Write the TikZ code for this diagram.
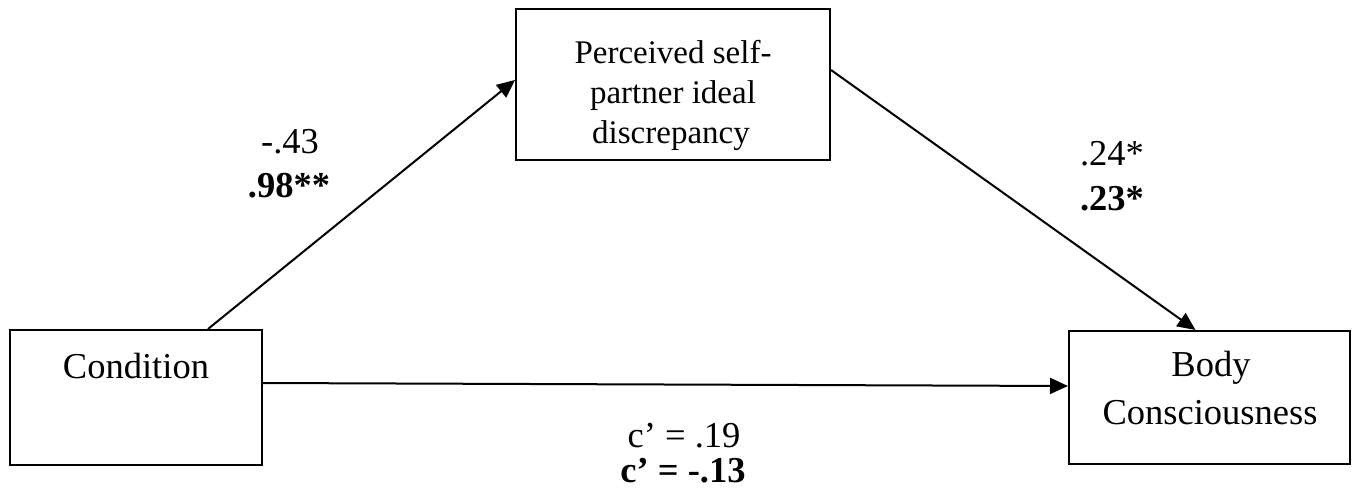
\documentclass[tikz,border=0pt]{standalone}
\usepackage{fontspec}
\setmainfont{Liberation Serif}
\usetikzlibrary{arrows.meta}
\begin{document}
\begin{tikzpicture}[x=1pt,y=-1pt,
  box/.style={draw, line width=2pt, inner sep=0pt, minimum width=#1},
  txt/.style={anchor=base, inner sep=0pt, font=\fontsize{36.5}{40}\selectfont},
  ttxt/.style={anchor=base, inner sep=0pt, font=\fontsize{33}{38}\selectfont},
  btxt/.style={anchor=base, inner sep=0pt, font=\fontsize{36.5}{40}\selectfont\bfseries},
  arr/.style={line width=2pt, -{Triangle[length=18pt,width=16pt]}}]
\useasboundingbox (0,0) rectangle (1358,498);
\node[box=252pt, minimum height=135pt] (cond) at (136,397.5) {};
\node[box=314pt, minimum height=151pt] (med) at (673,84.5) {};
\node[box=281pt, minimum height=133pt] (body) at (1209.5,397.5) {};
\node[txt] (condt) at (136,378) {Condition};
\node[ttxt] (medt1) at (673,63) {Perceived self-};
\node[ttxt] (medt2) at (673,103) {partner ideal};
\node[ttxt] (medt3) at (671,143) {discrepancy};
\node[txt] (bodyt1) at (1211,376) {Body};
\node[txt] (bodyt2) at (1210,424) {Consciousness};
\draw[arr] ([xshift=72pt]cond.north) -- ([yshift=4.5pt]med.west);
\draw[arr] ([yshift=14.5pt]med.east) -- ([xshift=-14pt]body.north);
\draw[arr] ([yshift=14.5pt]cond.east) -- ([yshift=11.5pt]body.west);
\node[txt] (a1) at (290,153) {-.43};
\node[btxt] (a2) at (289,197) {.98**};
\node[txt] (b1) at (1112,165) {.24*};
\node[btxt] (b2) at (1112,210) {.23*};
\node[txt] (c1) at (684,447) {c’ = .19};
\node[btxt] (c2) at (683,482) {c’ = -.13};
\end{tikzpicture}
\end{document}
